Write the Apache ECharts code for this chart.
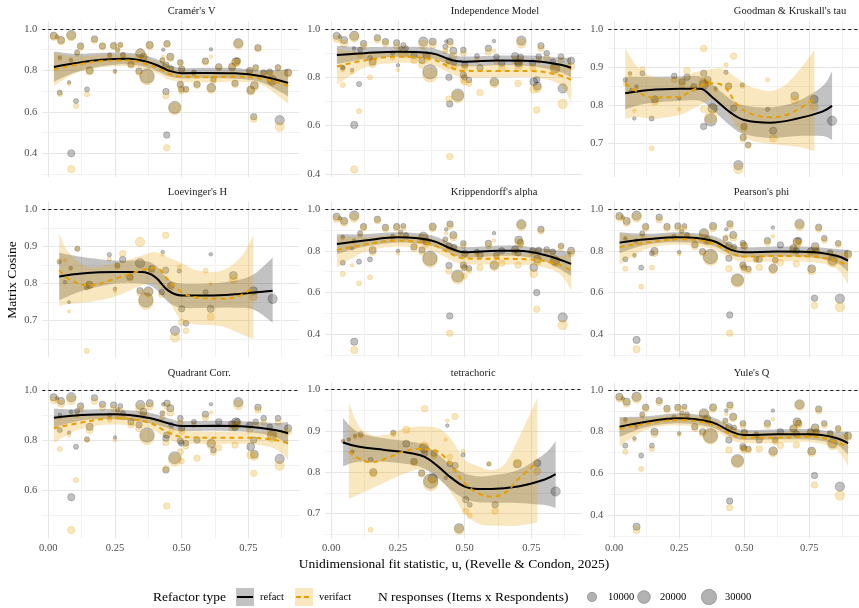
<!DOCTYPE html>
<html>
<head>
<meta charset="utf-8">
<script src="https://cdn.jsdelivr.net/npm/echarts@6/dist/echarts.min.js"></script>
<style>
  html, body { margin: 0; padding: 0; background: #fff; }
  #chart { width: 859px; height: 608px; }
</style>
</head>
<body>
<div id="chart"></div>
<script>
// facet titles, in reading order
var facetNames = ["Cramér's V", "Independence Model", "Goodman & Kruskall's tau",
  "Loevinger's H", "Krippendorff's alpha", "Pearson's phi",
  "Quadrant Corr.", "tetrachoric", "Yule's Q"];

// datasets shared by the six complete facets: u statistic and N responses
var datasetU = [0.02, 0.033, 0.048, 0.086, 0.043, 0.043, 0.078, 0.104, 0.086, 0.085,
  0.108, 0.121, 0.145, 0.155, 0.173, 0.203, 0.23, 0.245, 0.27, 0.26,
  0.25, 0.28, 0.31, 0.34, 0.345, 0.357, 0.37, 0.38, 0.4275, 0.431,
  0.445, 0.441, 0.441, 0.4575, 0.461, 0.444, 0.474, 0.495, 0.50, 0.495,
  0.499, 0.516, 0.546, 0.5575, 0.589, 0.61, 0.611, 0.619, 0.639, 0.689,
  0.70, 0.7025, 0.7125, 0.709, 0.755, 0.759, 0.7725, 0.7775, 0.786, 0.77,
  0.8075, 0.83, 0.839, 0.861, 0.8675, 0.899];
var datasetN = [5500, 900, 5500, 10000, 900, 2300, 900, 2300, 5500, 900,
  2300, 4200, 2300, 5500, 4200, 4200, 1500, 4200, 2300, 1500,
  900, 2300, 4200, 4200, 10000, 5500, 26000, 5500, 2300, 900,
  4200, 4200, 4200, 5500, 2300, 4200, 18000, 3200, 4200, 4200,
  3200, 3200, 2300, 4200, 4200, 900, 8200, 3200, 4200, 5500,
  4200, 6800, 10000, 4200, 4200, 6800, 6800, 3200, 4200, 4200,
  3200, 3200, 10000, 3200, 10000, 5500];

var cramerRef = [0.968, 0.963, 0.947, 0.971, 0.862, 0.693, 0.743, 0.652, 0.40, 0.85,
  0.887, 0.918, 0.709, 0.80, 0.952, 0.918, 0.875, 0.92, 0.924, 0.90,
  0.797, 0.875, 0.83, 0.797, 0.883, 0.866, 0.773, 0.923, 0.85, 0.90,
  0.93, 0.826, 0.698, 0.866, 0.81, 0.488, 0.622, 0.839, 0.807, 0.733,
  0.709, 0.71, 0.79, 0.733, 0.846, 0.902, 0.717, 0.757, 0.818, 0.818,
  0.738, 0.842, 0.931, 0.847, 0.80, 0.706, 0.728, 0.815, 0.91, 0.577,
  0.79, 0.794, 0.754, 0.815, 0.56, 0.79];
var cramerVer = [0.962, 0.958, 0.94, 0.965, 0.855, 0.686, 0.735, 0.628, 0.324, 0.845,
  0.88, 0.912, 0.685, 0.795, 0.945, 0.915, 0.87, 0.915, 0.92, 0.895,
  0.79, 0.87, 0.826, 0.79, 0.878, 0.86, 0.765, 0.918, 0.845, 0.866,
  0.925, 0.82, 0.678, 0.86, 0.805, 0.427, 0.615, 0.832, 0.80, 0.725,
  0.70, 0.705, 0.785, 0.728, 0.84, 0.866, 0.71, 0.75, 0.812, 0.812,
  0.732, 0.835, 0.925, 0.84, 0.795, 0.70, 0.72, 0.808, 0.905, 0.564,
  0.785, 0.788, 0.748, 0.81, 0.528, 0.785];

var indepRef = [0.972, 0.968, 0.954, 0.972, 0.84, 0.84, 0.83, 0.772, 0.603, 0.92,
  0.915, 0.94, 0.88, 0.865, 0.964, 0.948, 0.90, 0.943, 0.934, 0.92,
  0.85, 0.92, 0.89, 0.87, 0.948, 0.892, 0.823, 0.948, 0.927, 0.948,
  0.948, 0.87, 0.80, 0.91, 0.86, 0.69, 0.727, 0.913, 0.851, 0.81,
  0.80, 0.789, 0.888, 0.84, 0.92, 0.95, 0.782, 0.885, 0.858, 0.888,
  0.86, 0.858, 0.952, 0.883, 0.86, 0.782, 0.764, 0.886, 0.931, 0.79,
  0.90, 0.865, 0.837, 0.886, 0.754, 0.869];
var indepVer = [0.96, 0.95, 0.94, 0.965, 0.83, 0.768, 0.82, 0.66, 0.419, 0.90,
  0.89, 0.93, 0.80, 0.855, 0.955, 0.94, 0.88, 0.93, 0.92, 0.90,
  0.83, 0.89, 0.87, 0.85, 0.935, 0.88, 0.81, 0.935, 0.91, 0.91,
  0.935, 0.85, 0.71, 0.89, 0.84, 0.472, 0.72, 0.90, 0.84, 0.79,
  0.78, 0.775, 0.87, 0.737, 0.905, 0.91, 0.775, 0.865, 0.84, 0.87,
  0.775, 0.845, 0.94, 0.87, 0.84, 0.75, 0.755, 0.87, 0.92, 0.665,
  0.88, 0.85, 0.83, 0.87, 0.69, 0.845];

var krippRef = [0.965, 0.957, 0.944, 0.97, 0.868, 0.743, 0.812, 0.748, 0.363, 0.85,
  0.885, 0.917, 0.759, 0.804, 0.952, 0.913, 0.87, 0.917, 0.92, 0.89,
  0.80, 0.876, 0.82, 0.804, 0.868, 0.845, 0.764, 0.917, 0.856, 0.904,
  0.929, 0.824, 0.73, 0.876, 0.82, 0.487, 0.679, 0.836, 0.788, 0.732,
  0.72, 0.716, 0.796, 0.78, 0.836, 0.885, 0.732, 0.78, 0.80, 0.807,
  0.79, 0.852, 0.928, 0.84, 0.80, 0.72, 0.76, 0.804, 0.904, 0.599,
  0.807, 0.796, 0.753, 0.824, 0.48, 0.801];
var krippVer = [0.955, 0.95, 0.935, 0.96, 0.86, 0.689, 0.73, 0.644, 0.323, 0.84,
  0.875, 0.91, 0.673, 0.795, 0.945, 0.905, 0.86, 0.91, 0.91, 0.88,
  0.788, 0.865, 0.81, 0.795, 0.86, 0.835, 0.755, 0.91, 0.845, 0.885,
  0.92, 0.815, 0.703, 0.865, 0.81, 0.403, 0.67, 0.825, 0.78, 0.72,
  0.679, 0.705, 0.785, 0.72, 0.825, 0.85, 0.725, 0.77, 0.74, 0.795,
  0.732, 0.84, 0.92, 0.83, 0.79, 0.69, 0.75, 0.795, 0.895, 0.519,
  0.795, 0.785, 0.745, 0.815, 0.443, 0.79];

var pearsonRef = [0.968, 0.962, 0.944, 0.97, 0.861, 0.76, 0.78, 0.72, 0.373, 0.85,
  0.885, 0.917, 0.789, 0.80, 0.962, 0.917, 0.87, 0.92, 0.92, 0.895,
  0.794, 0.877, 0.83, 0.797, 0.885, 0.853, 0.773, 0.92, 0.861, 0.904,
  0.93, 0.829, 0.765, 0.877, 0.82, 0.493, 0.661, 0.837, 0.826, 0.733,
  0.72, 0.714, 0.76, 0.76, 0.85, 0.912, 0.717, 0.757, 0.829, 0.813,
  0.80, 0.845, 0.93, 0.85, 0.80, 0.715, 0.821, 0.80, 0.914, 0.573,
  0.861, 0.792, 0.754, 0.837, 0.571, 0.786];
var pearsonVer = [0.96, 0.955, 0.935, 0.96, 0.855, 0.715, 0.775, 0.629, 0.328, 0.84,
  0.875, 0.91, 0.72, 0.79, 0.95, 0.91, 0.86, 0.91, 0.91, 0.885,
  0.785, 0.87, 0.82, 0.79, 0.875, 0.845, 0.765, 0.91, 0.85, 0.87,
  0.92, 0.82, 0.715, 0.865, 0.81, 0.405, 0.655, 0.83, 0.815, 0.725,
  0.71, 0.705, 0.755, 0.72, 0.84, 0.87, 0.71, 0.75, 0.744, 0.805,
  0.738, 0.835, 0.92, 0.84, 0.79, 0.705, 0.81, 0.79, 0.905, 0.538,
  0.85, 0.785, 0.745, 0.83, 0.53, 0.78];

var quadRef = [0.971, 0.967, 0.956, 0.971, 0.90, 0.84, 0.83, 0.773, 0.571, 0.913,
  0.916, 0.936, 0.803, 0.853, 0.969, 0.943, 0.90, 0.94, 0.936, 0.92,
  0.81, 0.907, 0.873, 0.86, 0.94, 0.913, 0.82, 0.947, 0.907, 0.943,
  0.947, 0.807, 0.68, 0.927, 0.86, 0.82, 0.729, 0.887, 0.847, 0.796,
  0.787, 0.787, 0.873, 0.80, 0.903, 0.943, 0.787, 0.76, 0.873, 0.863,
  0.85, 0.873, 0.951, 0.873, 0.86, 0.773, 0.743, 0.873, 0.931, 0.80,
  0.887, 0.853, 0.82, 0.887, 0.724, 0.847];
var quadVer = [0.96, 0.955, 0.945, 0.96, 0.89, 0.764, 0.82, 0.64, 0.44, 0.90,
  0.90, 0.925, 0.80, 0.84, 0.955, 0.93, 0.88, 0.925, 0.92, 0.90,
  0.80, 0.89, 0.86, 0.845, 0.925, 0.90, 0.81, 0.935, 0.89, 0.91,
  0.935, 0.79, 0.685, 0.91, 0.84, 0.536, 0.72, 0.87, 0.835, 0.753,
  0.716, 0.775, 0.86, 0.727, 0.89, 0.91, 0.78, 0.75, 0.769, 0.85,
  0.78, 0.86, 0.94, 0.86, 0.84, 0.74, 0.735, 0.86, 0.92, 0.667,
  0.87, 0.84, 0.81, 0.87, 0.697, 0.835];

var yuleRef = [0.968, 0.96, 0.944, 0.968, 0.859, 0.733, 0.768, 0.685, 0.344, 0.83,
  0.883, 0.917, 0.733, 0.80, 0.949, 0.912, 0.87, 0.917, 0.92, 0.89,
  0.792, 0.883, 0.824, 0.80, 0.888, 0.864, 0.781, 0.917, 0.853, 0.901,
  0.928, 0.824, 0.76, 0.872, 0.82, 0.467, 0.661, 0.84, 0.797, 0.728,
  0.72, 0.717, 0.787, 0.76, 0.84, 0.901, 0.707, 0.76, 0.80, 0.816,
  0.79, 0.848, 0.931, 0.84, 0.80, 0.707, 0.819, 0.80, 0.909, 0.589,
  0.84, 0.792, 0.744, 0.816, 0.536, 0.781];
var yuleVer = [0.96, 0.95, 0.935, 0.96, 0.85, 0.704, 0.76, 0.621, 0.328, 0.82,
  0.875, 0.91, 0.717, 0.79, 0.94, 0.905, 0.86, 0.91, 0.91, 0.88,
  0.785, 0.875, 0.815, 0.79, 0.88, 0.855, 0.775, 0.91, 0.845, 0.885,
  0.92, 0.815, 0.712, 0.865, 0.81, 0.435, 0.655, 0.83, 0.79, 0.72,
  0.71, 0.71, 0.78, 0.717, 0.83, 0.86, 0.70, 0.75, 0.733, 0.81,
  0.736, 0.84, 0.925, 0.83, 0.79, 0.70, 0.81, 0.79, 0.90, 0.544,
  0.83, 0.785, 0.735, 0.81, 0.493, 0.775];

// facets with fewer datasets: [u, refact, verifact, N]
var goodmanPts = [
  [0.0425, 0.867, 0.856, 1500], [0.061, 0.884, 0.88, 900], [0.065, 0.84, 0.835, 900],
  [0.0775, 0.766, 0.786, 900], [0.086, 0.85, 0.845, 900], [0.109, 0.884, 0.895, 2300],
  [0.144, 0.766, 0.688, 2300], [0.156, 0.816, 0.81, 5500], [0.231, 0.877, 0.867, 3200],
  [0.25, 0.819, 0.79, 900], [0.261, 0.862, 0.855, 4200], [0.28, 0.874, 0.891, 4200],
  [0.306, 0.849, 0.845, 4200], [0.344, 0.884, 0.949, 4200], [0.344, 0.854, 0.86, 10000],
  [0.344, 0.745, 0.79, 4200], [0.359, 0.867, 0.86, 5500], [0.371, 0.762, 0.77, 18000],
  [0.378, 0.793, 0.79, 10000], [0.39, 0.845, 0.84, 900], [0.43, 0.887, 0.906, 1500],
  [0.44, 0.851, 0.85, 4200], [0.459, 0.793, 0.929, 4200], [0.4925, 0.854, 0.85, 1500],
  [0.4775, 0.644, 0.634, 10000], [0.499, 0.745, 0.74, 4200], [0.496, 0.717, 0.712, 4200],
  [0.515, 0.697, 0.695, 3200], [0.59, 0.79, 0.867, 1500], [0.611, 0.734, 0.714, 5500],
  [0.694, 0.825, 0.815, 6800], [0.769, 0.816, 0.797, 6800], [0.8375, 0.76, null, 10000]
];
var loevingerPts = [
  [0.041, 0.858, 0.862, 1500], [0.0625, 0.804, 0.863, 900], [0.0775, 0.75, 0.725, 600],
  [0.084, 0.842, 0.84, 900], [0.109, 0.894, 0.894, 2300], [0.144, 0.79, 0.619, 2300],
  [0.154, 0.797, 0.795, 5500], [0.229, 0.878, 0.866, 1500], [0.25, 0.786, 0.78, 900],
  [0.259, 0.849, 0.845, 2300], [0.279, 0.865, 0.881, 4200], [0.306, 0.818, 0.815, 4200],
  [0.344, 0.855, 0.912, 10000], [0.344, 0.781, 0.775, 4200], [0.366, 0.756, 0.75, 26000],
  [0.375, 0.779, 0.775, 10000], [0.3875, 0.84, 0.835, 4200], [0.429, 0.885, 0.878, 900],
  [0.44, 0.836, 0.93, 4200], [0.425, 0.777, 0.77, 3200], [0.459, 0.795, 0.79, 4200],
  [0.491, 0.834, 0.845, 1500], [0.475, 0.673, 0.655, 10000], [0.5, 0.732, 0.696, 4200],
  [0.516, 0.693, 0.673, 3200], [0.59, 0.777, 0.835, 2300], [0.609, 0.879, 0.80, 900],
  [0.609, 0.732, 0.711, 5500], [0.694, 0.822, 0.812, 6800], [0.769, 0.781, 0.765, 6800],
  [0.841, 0.759, null, 10000]
];
var tetraPts = [
  [0.044, 0.875, 0.875, 900], [0.066, 0.879, 0.879, 900], [0.079, 0.85, 0.848, 900],
  [0.089, 0.888, 0.885, 900], [0.11, 0.892, 0.888, 2300], [0.1475, 0.83, 0.66, 2300],
  [0.1575, 0.80, 0.797, 5500], [0.2325, 0.896, 0.892, 2300], [0.281, 0.869, 0.903, 5500],
  [0.31, 0.826, 0.822, 4200], [0.3475, 0.858, 0.862, 10000], [0.35, 0.846, 0.954, 4200],
  [0.339, 0.798, 0.795, 4200], [0.3725, 0.778, 0.772, 26000], [0.38, 0.785, 0.78, 10000],
  [0.385, 0.846, 0.84, 4200], [0.435, 0.913, 0.925, 900], [0.429, 0.786, 0.879, 900],
  [0.464, 0.816, 0.935, 4200], [0.444, 0.82, 0.837, 3200], [0.494, 0.842, 0.85, 1500],
  [0.504, 0.733, 0.705, 4200], [0.519, 0.721, 0.694, 2300], [0.479, 0.664, 0.66, 10000],
  [0.591, 0.82, 0.82, 1500], [0.614, 0.721, 0.705, 4200], [0.6975, 0.82, 0.822, 6800],
  [0.7725, 0.822, 0.802, 5500], [0.841, 0.753, null, 10000]
];

// loess fits: [u, fit, lower, upper]
var cramerRefFit = [[0.021, 0.817, 0.745, 0.892], [0.1, 0.835, 0.79, 0.88], [0.2, 0.852, 0.82, 0.885],
  [0.3, 0.857, 0.83, 0.885], [0.375, 0.84, 0.812, 0.868], [0.42, 0.818, 0.79, 0.846], [0.45, 0.80, 0.772, 0.828],
  [0.5, 0.787, 0.762, 0.812], [0.6, 0.788, 0.763, 0.813], [0.7, 0.786, 0.76, 0.812],
  [0.8, 0.772, 0.742, 0.80], [0.899, 0.74, 0.675, 0.805]];
var cramerVerFit = [[0.021, 0.805, 0.725, 0.885], [0.1, 0.826, 0.785, 0.868], [0.2, 0.845, 0.815, 0.875],
  [0.3, 0.848, 0.82, 0.876], [0.375, 0.828, 0.80, 0.856], [0.42, 0.805, 0.777, 0.833], [0.45, 0.785, 0.757, 0.813],
  [0.5, 0.77, 0.745, 0.795], [0.6, 0.767, 0.742, 0.792], [0.7, 0.77, 0.745, 0.795],
  [0.8, 0.76, 0.73, 0.79], [0.899, 0.725, 0.64, 0.80]];
var indepRefFit = [[0.021, 0.892, 0.855, 0.93], [0.125, 0.90, 0.875, 0.925], [0.25, 0.906, 0.885, 0.927],
  [0.375, 0.90, 0.878, 0.922], [0.45, 0.872, 0.85, 0.894], [0.5, 0.865, 0.845, 0.886],
  [0.625, 0.87, 0.85, 0.89], [0.75, 0.868, 0.846, 0.89], [0.85, 0.854, 0.825, 0.883],
  [0.899, 0.84, 0.80, 0.88]];
var indepVerFit = [[0.021, 0.845, 0.77, 0.92], [0.125, 0.87, 0.84, 0.90], [0.25, 0.885, 0.86, 0.91],
  [0.375, 0.875, 0.85, 0.90], [0.45, 0.84, 0.815, 0.865], [0.5, 0.826, 0.80, 0.852],
  [0.625, 0.826, 0.80, 0.852], [0.75, 0.826, 0.80, 0.852], [0.85, 0.81, 0.775, 0.845],
  [0.899, 0.79, 0.70, 0.86]];
var goodmanRefFit = [[0.0425, 0.832, 0.79, 0.875], [0.125, 0.84, 0.805, 0.875], [0.25, 0.844, 0.812, 0.876],
  [0.33, 0.844, 0.812, 0.876], [0.375, 0.823, 0.79, 0.856], [0.45, 0.78, 0.745, 0.815],
  [0.5, 0.762, 0.725, 0.80], [0.6, 0.755, 0.715, 0.795], [0.7, 0.765, 0.72, 0.81],
  [0.8, 0.784, 0.72, 0.85], [0.8375, 0.799, 0.71, 0.89]];
var goodmanVerFit = [[0.0425, 0.858, 0.765, 0.95], [0.09, 0.836, 0.77, 0.90], [0.15, 0.821, 0.765, 0.875],
  [0.25, 0.823, 0.775, 0.872], [0.3, 0.84, 0.79, 0.885], [0.375, 0.858, 0.815, 0.895],
  [0.42, 0.851, 0.80, 0.895], [0.475, 0.80, 0.74, 0.87], [0.52, 0.78, 0.71, 0.85],
  [0.6, 0.769, 0.70, 0.838], [0.66, 0.775, 0.695, 0.855], [0.72, 0.795, 0.69, 0.90],
  [0.77, 0.819, 0.68, 0.945]];
var loevingerRefFit = [[0.041, 0.819, 0.755, 0.883], [0.125, 0.827, 0.78, 0.872], [0.25, 0.831, 0.80, 0.862],
  [0.35, 0.831, 0.80, 0.862], [0.4, 0.818, 0.787, 0.85], [0.45, 0.781, 0.75, 0.812],
  [0.5, 0.768, 0.735, 0.80], [0.6, 0.768, 0.735, 0.80], [0.7, 0.771, 0.735, 0.808],
  [0.77, 0.776, 0.73, 0.825], [0.841, 0.781, 0.695, 0.87]];
var loevingerVerFit = [[0.041, 0.836, 0.74, 0.935], [0.075, 0.813, 0.745, 0.885], [0.15, 0.795, 0.75, 0.845],
  [0.25, 0.813, 0.765, 0.855], [0.35, 0.836, 0.795, 0.875], [0.4, 0.843, 0.80, 0.885],
  [0.45, 0.81, 0.755, 0.87], [0.5, 0.777, 0.70, 0.855], [0.56, 0.762, 0.69, 0.835],
  [0.65, 0.759, 0.685, 0.835], [0.72, 0.768, 0.665, 0.87], [0.769, 0.79, 0.65, 0.93]];
var krippRefFit = [[0.021, 0.833, 0.785, 0.88], [0.125, 0.85, 0.82, 0.88], [0.25, 0.865, 0.84, 0.89],
  [0.375, 0.85, 0.825, 0.875], [0.45, 0.81, 0.785, 0.835], [0.5, 0.793, 0.768, 0.818],
  [0.625, 0.80, 0.775, 0.825], [0.7, 0.80, 0.775, 0.825], [0.8, 0.78, 0.75, 0.81],
  [0.899, 0.737, 0.68, 0.795]];
var krippVerFit = [[0.021, 0.804, 0.72, 0.87], [0.125, 0.83, 0.795, 0.865], [0.25, 0.849, 0.82, 0.878],
  [0.375, 0.83, 0.80, 0.86], [0.45, 0.785, 0.755, 0.815], [0.5, 0.763, 0.735, 0.79],
  [0.625, 0.762, 0.735, 0.79], [0.75, 0.758, 0.73, 0.786], [0.85, 0.735, 0.695, 0.775],
  [0.899, 0.705, 0.61, 0.79]];
var pearsonRefFit = [[0.021, 0.84, 0.79, 0.89], [0.125, 0.856, 0.83, 0.882], [0.25, 0.866, 0.842, 0.89],
  [0.375, 0.85, 0.826, 0.874], [0.45, 0.805, 0.78, 0.83], [0.5, 0.794, 0.77, 0.818],
  [0.625, 0.797, 0.773, 0.821], [0.75, 0.795, 0.77, 0.82], [0.85, 0.778, 0.745, 0.81],
  [0.899, 0.754, 0.70, 0.805]];
var pearsonVerFit = [[0.021, 0.818, 0.735, 0.885], [0.125, 0.84, 0.81, 0.87], [0.25, 0.856, 0.83, 0.882],
  [0.375, 0.837, 0.81, 0.864], [0.45, 0.79, 0.764, 0.816], [0.5, 0.773, 0.748, 0.798],
  [0.625, 0.776, 0.75, 0.80], [0.75, 0.773, 0.747, 0.80], [0.85, 0.755, 0.72, 0.79],
  [0.899, 0.728, 0.64, 0.795]];
var quadRefFit = [[0.021, 0.889, 0.85, 0.925], [0.125, 0.90, 0.878, 0.922], [0.25, 0.903, 0.883, 0.923],
  [0.375, 0.889, 0.868, 0.91], [0.45, 0.867, 0.847, 0.887], [0.5, 0.856, 0.836, 0.876],
  [0.625, 0.857, 0.837, 0.877], [0.75, 0.853, 0.832, 0.874], [0.85, 0.84, 0.812, 0.868],
  [0.899, 0.827, 0.78, 0.872]];
var quadVerFit = [[0.021, 0.847, 0.79, 0.895], [0.125, 0.87, 0.845, 0.895], [0.25, 0.887, 0.862, 0.91],
  [0.375, 0.87, 0.845, 0.895], [0.45, 0.83, 0.805, 0.855], [0.5, 0.813, 0.788, 0.838],
  [0.625, 0.809, 0.784, 0.834], [0.75, 0.809, 0.784, 0.834], [0.85, 0.80, 0.765, 0.835],
  [0.899, 0.787, 0.72, 0.845]];
var tetraRefFit = [[0.044, 0.872, 0.814, 0.931], [0.1, 0.862, 0.825, 0.897], [0.2, 0.854, 0.825, 0.882],
  [0.3, 0.846, 0.818, 0.874], [0.35, 0.837, 0.808, 0.866], [0.4, 0.814, 0.785, 0.843],
  [0.45, 0.786, 0.756, 0.816], [0.5, 0.765, 0.735, 0.797], [0.55, 0.759, 0.727, 0.79],
  [0.6, 0.759, 0.726, 0.792], [0.7, 0.765, 0.725, 0.805], [0.8, 0.782, 0.72, 0.845],
  [0.841, 0.795, 0.713, 0.875]];
var tetraVerFit = [[0.066, 0.85, 0.735, 0.97], [0.1, 0.834, 0.745, 0.915], [0.15, 0.824, 0.76, 0.89],
  [0.2, 0.832, 0.775, 0.89], [0.27, 0.85, 0.795, 0.905], [0.32, 0.856, 0.805, 0.91],
  [0.38, 0.854, 0.80, 0.91], [0.42, 0.84, 0.775, 0.90], [0.46, 0.806, 0.74, 0.87],
  [0.5, 0.773, 0.70, 0.83], [0.55, 0.749, 0.675, 0.815], [0.6, 0.741, 0.67, 0.805],
  [0.65, 0.749, 0.67, 0.82], [0.7, 0.782, 0.67, 0.88], [0.7725, 0.824, 0.678, 0.98]];
var yuleRefFit = [[0.021, 0.824, 0.775, 0.87], [0.125, 0.848, 0.822, 0.874], [0.25, 0.864, 0.84, 0.888],
  [0.375, 0.845, 0.82, 0.87], [0.45, 0.80, 0.775, 0.825], [0.5, 0.784, 0.76, 0.808],
  [0.625, 0.787, 0.763, 0.811], [0.75, 0.787, 0.762, 0.812], [0.85, 0.771, 0.74, 0.80],
  [0.899, 0.744, 0.69, 0.80]];
var yuleVerFit = [[0.021, 0.813, 0.73, 0.865], [0.125, 0.838, 0.81, 0.866], [0.25, 0.856, 0.83, 0.882],
  [0.375, 0.835, 0.808, 0.862], [0.45, 0.787, 0.76, 0.814], [0.5, 0.771, 0.745, 0.797],
  [0.625, 0.771, 0.745, 0.797], [0.75, 0.776, 0.75, 0.802], [0.85, 0.752, 0.718, 0.786],
  [0.899, 0.723, 0.635, 0.79]];

// axis ranges and ticks
var xRange = [-0.0225, 0.941];
var xMajor = [0, 0.25, 0.5, 0.75];
var xMinor = [0.125, 0.375, 0.625, 0.875];
var yRanges = [[0.2857, 1.0386], [0.3877, 1.0331], [0.6129, 1.0209],
  [0.601, 1.0211], [0.2868, 1.0375], [0.2885, 1.0374],
  [0.406, 1.03], [0.639, 1.0175], [0.287, 1.036]];
var yMajorWide = [0.4, 0.6, 0.8, 1.0], yMinorWide = [0.3, 0.5, 0.7, 0.9];
var yMajorNarrow = [0.7, 0.8, 0.9, 1.0], yMinorNarrow = [0.65, 0.75, 0.85, 0.95];
var yMajor = [yMajorWide, yMajorWide, yMajorNarrow, yMajorNarrow, yMajorWide, yMajorWide,
  [0.6, 0.8, 1.0], yMajorNarrow, yMajorWide];
var yMinor = [yMinorWide, [0.5, 0.7, 0.9], yMinorNarrow, yMinorNarrow, yMinorWide, yMinorWide,
  [0.5, 0.7, 0.9], yMinorNarrow, yMinorWide];
var legendSizes = [10000, 20000, 30000];

function pairUp(y) {
  return datasetU.map(function (u, i) { return [u, y[i], datasetN[i]]; });
}
function fromPts(pts, col) {
  return pts.filter(function (p) { return p[col] != null; })
    .map(function (p) { return [p[0], p[col], p[3]]; });
}

var facets = [
  { ref: pairUp(cramerRef), ver: pairUp(cramerVer), refFit: cramerRefFit, verFit: cramerVerFit },
  { ref: pairUp(indepRef), ver: pairUp(indepVer), refFit: indepRefFit, verFit: indepVerFit },
  { ref: fromPts(goodmanPts, 1), ver: fromPts(goodmanPts, 2), refFit: goodmanRefFit, verFit: goodmanVerFit },
  { ref: fromPts(loevingerPts, 1), ver: fromPts(loevingerPts, 2), refFit: loevingerRefFit, verFit: loevingerVerFit },
  { ref: pairUp(krippRef), ver: pairUp(krippVer), refFit: krippRefFit, verFit: krippVerFit },
  { ref: pairUp(pearsonRef), ver: pairUp(pearsonVer), refFit: pearsonRefFit, verFit: pearsonVerFit },
  { ref: pairUp(quadRef), ver: pairUp(quadVer), refFit: quadRefFit, verFit: quadVerFit },
  { ref: fromPts(tetraPts, 1), ver: fromPts(tetraPts, 2), refFit: tetraRefFit, verFit: tetraVerFit },
  { ref: pairUp(yuleRef), ver: pairUp(yuleVer), refFit: yuleRefFit, verFit: yuleVerFit }
];

// layout
var FONT = "'Liberation Serif', 'DejaVu Serif', serif";
var panelLeft = [42.3, 325.3, 608.3], rowTop = [21, 201.5, 382.5];
var panelW = 257, panelH = 156;
var REF = '#000000', VER = '#E69F00';
var refPoint = 'rgba(0,0,0,0.3)', verPoint = 'rgba(230,159,0,0.33)';
var refBand = 'rgba(0,0,0,0.24)', verBand = 'rgba(230,159,0,0.25)';

function dotSize(n) { return 1.2 + 8.2 * Math.sqrt(n / 10000); }

// catmull-rom through pixel points, sampled for drawing a smooth band edge
function smoothPixels(pts) {
  var out = [pts[0]];
  for (var i = 0; i < pts.length - 1; i++) {
    var p0 = pts[i - 1] || pts[i], p1 = pts[i], p2 = pts[i + 1], p3 = pts[i + 2] || pts[i + 1];
    for (var s = 1; s <= 10; s++) {
      var t = s / 10, t2 = t * t, t3 = t2 * t;
      var pt = [0, 1].map(function (k) {
        return 0.5 * (2 * p1[k] + (p2[k] - p0[k]) * t +
          (2 * p0[k] - 5 * p1[k] + 4 * p2[k] - p3[k]) * t2 +
          (3 * p1[k] - p0[k] - 3 * p2[k] + p3[k]) * t3);
      });
      out.push(pt);
    }
  }
  return out;
}

var grids = [], xAxes = [], yAxes = [], series = [], graphics = [];

facets.forEach(function (f, g) {
  var col = g % 3, row = Math.floor(g / 3);
  grids.push({ left: panelLeft[col], top: rowTop[row], width: panelW, height: panelH });
  var noLine = { show: false };
  xAxes.push({
    type: 'value', gridIndex: g, min: xRange[0], max: xRange[1],
    axisLine: noLine, axisTick: { show: false, customValues: xMajor },
    axisLabel: {
      show: row === 2, customValues: xMajor, margin: 4, color: '#4d4d4d',
      fontFamily: FONT, fontSize: 10.5,
      formatter: function (v) { return v.toFixed(2); }
    },
    splitLine: { show: true, lineStyle: { color: '#e6e6e6', width: 1 } }
  });
  xAxes.push({
    type: 'value', gridIndex: g, min: xRange[0], max: xRange[1],
    axisLine: noLine, axisTick: { show: false, customValues: xMinor },
    axisLabel: { show: false },
    splitLine: { show: true, lineStyle: { color: '#f2f2f2', width: 1 } }
  });
  yAxes.push({
    type: 'value', gridIndex: g, min: yRanges[g][0], max: yRanges[g][1],
    axisLine: noLine, axisTick: { show: false, customValues: yMajor[g] },
    axisLabel: {
      customValues: yMajor[g], margin: 5, color: '#4d4d4d',
      fontFamily: FONT, fontSize: 10.5,
      formatter: function (v) { return v.toFixed(1); }
    },
    splitLine: { show: true, lineStyle: { color: '#e6e6e6', width: 1 } }
  });
  yAxes.push({
    type: 'value', gridIndex: g, min: yRanges[g][0], max: yRanges[g][1],
    axisLine: noLine, axisTick: { show: false, customValues: yMinor[g] },
    axisLabel: { show: false },
    splitLine: { show: true, lineStyle: { color: '#f2f2f2', width: 1 } }
  });

  var ax = { xAxisIndex: 2 * g, yAxisIndex: 2 * g };
  function withAx(o) { return Object.assign({}, ax, o); }

  // points: refact first, verifact drawn over it
  series.push(withAx({
    type: 'scatter', data: f.ref, z: 2,
    symbolSize: function (v) { return dotSize(v[2]); },
    itemStyle: { color: refPoint, borderColor: refPoint, borderWidth: 0.8 }
  }));
  series.push(withAx({
    type: 'scatter', data: f.ver, z: 2,
    symbolSize: function (v) { return dotSize(v[2]); },
    itemStyle: { color: verPoint, borderColor: verPoint, borderWidth: 0.8 }
  }));

  // confidence band: polygon between upper and lower edges, mapped by the axes
  function band(fit, color) {
    series.push(withAx({
      type: 'custom', z: 3, silent: true,
      data: [[fit[0][0], fit[0][1]]],
      renderItem: function (params, api) {
        var upper = fit.map(function (r) { return api.coord([r[0], r[3]]); });
        var lower = fit.map(function (r) { return api.coord([r[0], r[2]]); }).reverse();
        var pts = smoothPixels(upper).concat(smoothPixels(lower));
        return { type: 'polygon', shape: { points: pts }, style: { fill: color } };
      }
    }));
  }
  band(f.refFit, refBand);
  band(f.verFit, verBand);

  // smooth lines
  series.push(withAx({
    type: 'line', data: f.refFit.map(function (r) { return [r[0], r[1]]; }),
    smooth: 0.4, showSymbol: false, z: 5,
    lineStyle: { color: REF, width: 2 },
    markLine: {
      silent: true, symbol: 'none', label: { show: false },
      lineStyle: { color: '#000', width: 0.9, type: [3, 3] },
      data: [{ yAxis: 1 }]
    }
  }));
  series.push(withAx({
    type: 'line', data: f.verFit.map(function (r) { return [r[0], r[1]]; }),
    smooth: 0.4, showSymbol: false, z: 6,
    lineStyle: { color: VER, width: 2, type: [5, 4] }
  }));

  // strip title
  graphics.push({
    type: 'text', left: panelLeft[col] + panelW / 2 - 3, top: rowTop[row] - 15,
    style: { text: facetNames[g], font: '10.5px ' + FONT, fill: '#1a1a1a', textAlign: 'center' }
  });
});

// axis titles
graphics.push({
  type: 'text', x: 12, y: 280, rotation: Math.PI / 2,
  style: { text: 'Matrix Cosine', font: '13.5px ' + FONT, fill: '#000', textAlign: 'center', textVerticalAlign: 'middle' }
});
graphics.push({
  type: 'text', x: 454, y: 564,
  style: { text: 'Unidimensional fit statistic, u, (Revelle & Condon, 2025)', font: '13.5px ' + FONT, fill: '#000', textAlign: 'center', textVerticalAlign: 'middle' }
});

// legend
var ly = 597;
graphics.push({ type: 'text', x: 153, y: ly, style: { text: 'Refactor type', font: '13.5px ' + FONT, fill: '#000', textVerticalAlign: 'middle' } });
graphics.push({ type: 'rect', shape: { x: 236, y: ly - 9, width: 18, height: 18 }, style: { fill: refBand } });
graphics.push({ type: 'line', shape: { x1: 237, y1: ly, x2: 253, y2: ly }, style: { stroke: REF, lineWidth: 2 } });
graphics.push({ type: 'text', x: 260, y: ly, style: { text: 'refact', font: '10.5px ' + FONT, fill: '#000', textVerticalAlign: 'middle' } });
graphics.push({ type: 'rect', shape: { x: 295, y: ly - 9, width: 18, height: 18 }, style: { fill: verBand } });
graphics.push({ type: 'line', shape: { x1: 296, y1: ly, x2: 312, y2: ly }, style: { stroke: VER, lineWidth: 2, lineDash: [5, 3] } });
graphics.push({ type: 'text', x: 319, y: ly, style: { text: 'verifact', font: '10.5px ' + FONT, fill: '#000', textVerticalAlign: 'middle' } });
graphics.push({ type: 'text', x: 378, y: ly, style: { text: 'N responses (Items x Respondents)', font: '13.5px ' + FONT, fill: '#000', textVerticalAlign: 'middle' } });
var legendX = [592, 644, 709];
legendSizes.forEach(function (n, i) {
  graphics.push({ type: 'circle', shape: { cx: legendX[i], cy: ly, r: dotSize(n) / 2 },
    style: { fill: refPoint, stroke: refPoint, lineWidth: 0.8 } });
  graphics.push({ type: 'text', x: legendX[i] + 16, y: ly,
    style: { text: String(n), font: '10.5px ' + FONT, fill: '#000', textVerticalAlign: 'middle' } });
});

var chart = echarts.init(document.getElementById('chart'), null, { renderer: 'canvas' });
chart.setOption({
  animation: false,
  backgroundColor: '#fff',
  grid: grids,
  xAxis: xAxes,
  yAxis: yAxes,
  series: series,
  graphic: graphics
});
</script>
</body>
</html>
